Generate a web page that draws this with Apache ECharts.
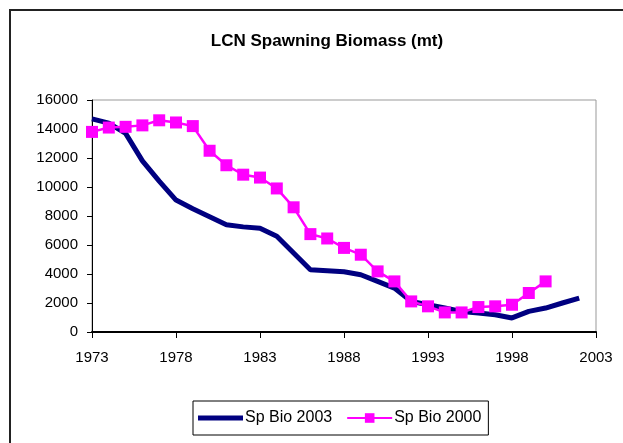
<!DOCTYPE html>
<html>
<head>
    <meta charset="utf-8">
    <title>LCN Spawning Biomass</title>
    <script src="https://cdn.jsdelivr.net/npm/echarts@6/dist/echarts.min.js"></script>
    <style>
        html, body { margin: 0; padding: 0; background: #fff; }
        #chart { width: 623px; height: 443px; }
    </style>
</head>
<body>
<div id="chart"></div>
<script>
    // years shown on the category axis
    var years = [];
    for (var y = 1973; y <= 2003; y++) years.push(String(y));

    // values (mt)
    var spBio2003 = [14700, 14400, 13700, 11800, 10400, 9100, 8500, 7950, 7400, 7250,
        7150, 6600, 5450, 4300, 4230, 4150, 3950, 3490, 3030, 2110,
        1880, 1650, 1420, 1310, 1190, 970, 1420, 1650, 2000, 2340];
    var spBio2000 = [13800, 14100, 14150, 14250, 14600, 14450, 14200, 12500, 11500, 10850,
        10650, 9900, 8600, 6750, 6450, 5800, 5330, 4180, 3490, 2110,
        1770, 1350, 1350, 1720, 1770, 1880, 2690, 3490];

    var font = 'Liberation Sans, Arial, sans-serif';
    var chart = echarts.init(document.getElementById('chart'));

    chart.setOption({
        backgroundColor: '#fff',
        animation: false,
        title: {
            text: 'LCN Spawning Biomass (mt)',
            left: 322,
            textAlign: 'center',
            top: 28,
            textStyle: {fontFamily: font, fontSize: 17, fontWeight: 'bold', color: '#000'}
        },
        graphic: [{
            type: 'rect',
            shape: {x: 10, y: 10, width: 700, height: 500},
            style: {fill: 'none', stroke: '#222', lineWidth: 2},
            silent: true
        }],
        grid: {
            left: 92, right: 27, top: 100, bottom: 111,
            show: true, borderColor: '#999', borderWidth: 1
        },
        legend: {
            left: 193,
            top: 401,
            padding: [9, 7, 9, 5],
            itemGap: 14,
            itemWidth: 45,
            itemHeight: 12,
            borderColor: '#000',
            borderWidth: 1,
            textStyle: {fontFamily: font, fontSize: 16, color: '#000', padding: [0, 0, 0, -3]},
            data: [
                {name: 'Sp Bio 2003', icon: 'path://M0,0 L45,0 L45,5 L0,5 Z'},
                'Sp Bio 2000'
            ]
        },
        xAxis: {
            type: 'category',
            data: years,
            boundaryGap: false,
            axisLine: {lineStyle: {color: '#000', width: 2}},
            axisTick: {interval: 4, length: 6, inside: false, lineStyle: {color: '#000', width: 1}},
            axisLabel: {interval: 4, margin: 18, fontFamily: font, fontSize: 15, color: '#000'},
            splitLine: {show: false}
        },
        yAxis: {
            type: 'value',
            min: 0,
            max: 16000,
            interval: 2000,
            axisLine: {show: true, lineStyle: {color: '#000', width: 1}},
            axisTick: {show: true, length: 5, lineStyle: {color: '#000'}},
            axisLabel: {
                margin: 14, fontFamily: font, fontSize: 15, color: '#000',
                formatter: function (v) { return String(v); }
            },
            splitLine: {show: false}
        },
        series: [{
            name: 'Sp Bio 2003',
            type: 'line',
            data: spBio2003,
            symbol: 'none',
            color: '#000080',
            lineStyle: {color: '#000080', width: 5}
        }, {
            name: 'Sp Bio 2000',
            type: 'line',
            data: spBio2000,
            symbol: 'rect',
            symbolSize: 12,
            showAllSymbol: true,
            color: '#ff00ff',
            itemStyle: {color: '#ff00ff'},
            lineStyle: {color: '#ff00ff', width: 2.5}
        }]
    });
</script>
</body>
</html>
